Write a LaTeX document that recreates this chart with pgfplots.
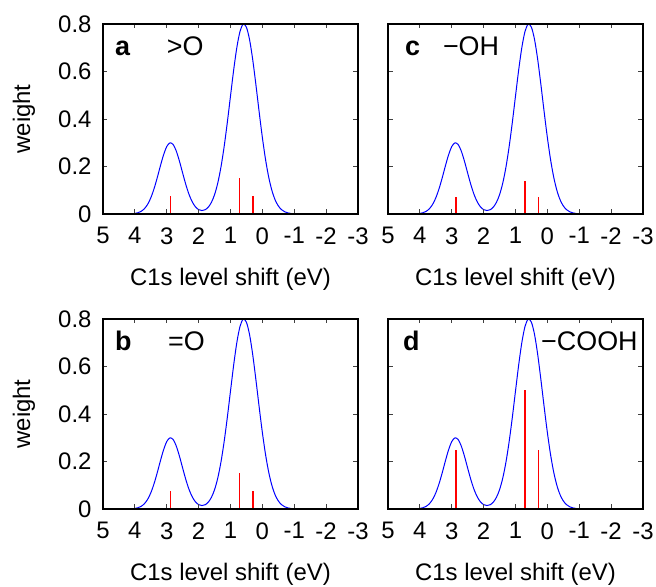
\documentclass[border=0pt]{standalone}
\usepackage{fontspec}
\setmainfont{Liberation Sans}
\usepackage{pgfplots}
\pgfplotsset{compat=1.18}

% summed spectrum, same in all four panels
\pgfplotstableread{
x y
5.0 0
4.4 0
4.3 0.0001
4.2 0.0004
4.1 0.0010
4.0 0.0024
3.9 0.0054
3.8 0.0115
3.7 0.0224
3.6 0.0406
3.5 0.0681
3.4 0.1057
3.3 0.1519
3.2 0.2021
3.1 0.2489
3.0 0.2838
2.9 0.2995
2.8 0.2927
2.7 0.2648
2.6 0.2217
2.5 0.1719
2.4 0.1234
2.3 0.0822
2.2 0.0511
2.1 0.0303
2.0 0.0185
1.9 0.0146
1.8 0.0176
1.7 0.0283
1.6 0.0485
1.5 0.0813
1.4 0.1298
1.3 0.1970
1.2 0.2829
1.1 0.3850
1.0 0.4965
0.9 0.6065
0.8 0.7018
0.7 0.7694
0.6 0.7991
0.5 0.7863
0.4 0.7329
0.3 0.6472
0.2 0.5413
0.1 0.4290
0.0 0.3221
-0.1 0.2291
-0.2 0.1544
-0.3 0.0986
-0.4 0.0596
-0.5 0.0341
-0.6 0.0185
-0.7 0.0095
-0.8 0.0046
-0.9 0.0021
-1.0 0.0009
-1.1 0.0004
-1.2 0.0001
-1.3 0
-3.0 0
}\spectrum

\newcommand{\lblfont}{\fontsize{24}{28}\selectfont}
\newcommand{\annfont}{\fontsize{27}{30}\selectfont}

\tikzset{
  tag/.style={anchor=base west, inner sep=0, font=\fontsize{27}{30}\bfseries},
  grp/.style={anchor=base west, inner sep=0, font=\annfont},
}

\pgfplotsset{
  panel/.style={
    scale only axis, width=255bp, height=190bp,
    x dir=reverse, xmin=-3, xmax=5, ymin=0, ymax=0.8,
    xtick={5,4,3,2,1,0,-1,-2,-3},
    xticklabels={5,4,3,2,1,0,-1,-2,-3},
    ytick={0,0.2,0.4,0.6,0.8},
    yticklabels={0,0.2,0.4,0.6,0.8},
    tick align=inside, major tick length=4.5bp,
    axis line style={line width=1.3bp},
    every tick/.style={black!75, line width=0.8bp},
    /pgf/number format/assume math mode=true,
    tick label style={font=\lblfont},
    xticklabel style={yshift=-10bp},
    yticklabel style={xshift=-8bp},
    every axis x label/.style={at={(axis description cs:0.5,0)}, anchor=center, yshift=-65bp, font=\lblfont},
    every axis y label/.style={at={(axis description cs:-0.31,0.5)}, anchor=center, rotate=90, font=\lblfont},
    xlabel={C1s level shift (eV)},
    axis on top,
    anchor=south west,
  },
  spec/.style={blue, line width=1bp, smooth},
  stick/.style={red, ycomb, line width=1.5bp, no markers},
}

\begin{document}
\begin{tikzpicture}
\useasboundingbox (0,0) rectangle (656bp,587bp);

% a
\begin{axis}[panel, at={(103bp,373bp)}, ylabel={weight}]
\addplot[spec] table {\spectrum};
\addplot[stick] coordinates {(2.88,0.075) (0.71,0.153) (0.29,0.075)};
\node[tag] at (axis description cs:0.047,0.835) {a};
\node[grp] at (axis description cs:0.25,0.835) {>O};
\end{axis}

% c
\begin{axis}[panel, at={(388bp,373bp)}, yticklabels={}]
\addplot[spec] table {\spectrum};
\addplot[stick] coordinates {(2.87,0.07) (0.70,0.14) (0.28,0.07)};
\node[tag] at (axis description cs:0.066,0.835) {c};
\node[grp] at (axis description cs:0.215,0.835) {−OH};
\end{axis}

% b
\begin{axis}[panel, at={(103bp,78bp)}, ylabel={weight}]
\addplot[spec] table {\spectrum};
\addplot[stick] coordinates {(2.88,0.074) (0.71,0.153) (0.29,0.074)};
\node[tag] at (axis description cs:0.047,0.835) {b};
\node[grp] at (axis description cs:0.255,0.835) {=O};
\end{axis}

% d
\begin{axis}[panel, at={(388bp,78bp)}, yticklabels={}]
\addplot[spec] table {\spectrum};
\addplot[stick] coordinates {(2.87,0.25) (0.70,0.50) (0.28,0.25)};
\node[tag] at (axis description cs:0.059,0.835) {d};
\node[grp] at (axis description cs:0.6,0.835) {−COOH};
\end{axis}
\end{tikzpicture}
\end{document}
